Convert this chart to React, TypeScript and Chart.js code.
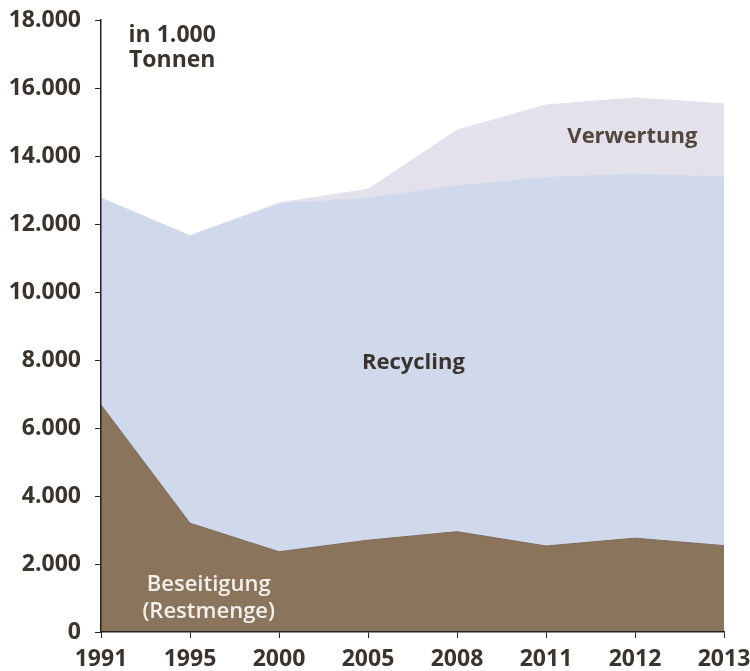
import React, { useEffect, useRef } from "react";
import { Chart, registerables } from "chart.js";

Chart.register(...registerables);

const categories = ["1991", "1995", "2000", "2005", "2008", "2011", "2012", "2013"];
const beseitigung = [6680, 3200, 2360, 2700, 2950, 2530, 2760, 2540];
const recycling = [6080, 8450, 10230, 10060, 10170, 10840, 10710, 10840];
const verwertung = [0, 0, 30, 260, 1640, 2130, 2240, 2150];
const yTicks = [0, 2000, 4000, 6000, 8000, 10000, 12000, 14000, 16000, 18000];

const FONT = "'Open Sans', 'Noto Sans', sans-serif";
const TEXT = "#3b332d";

const fmt = (v: number) =>
  v === 0 ? "0" : String(v).replace(/\B(?=(\d{3})+(?!\d))/g, ".");

const labelPlugin = {
  id: "areaLabels",
  afterDatasetsDraw(chart: any) {
    const { ctx, scales } = chart;
    const x = scales.x;
    const y = scales.y;
    const put = (t: string, xi: number, yv: number, color: string, size: number, weight = "bold") => {
      ctx.save();
      ctx.font = `${weight} ${size}px ${FONT}`;
      ctx.fillStyle = color;
      ctx.textAlign = "center";
      ctx.textBaseline = "middle";
      ctx.fillText(t, x.getPixelForValue(xi), y.getPixelForValue(yv));
      ctx.restore();
    };
    put("in 1.000", 0.8, 17560, TEXT, 23);
    put("Tonnen", 0.8, 16820, TEXT, 23);
    put("Verwertung", 5.97, 14560, "#54463b", 22);
    put("Recycling", 3.51, 7910, TEXT, 22);
    put("Beseitigung", 1.21, 1380, "#f3efea", 22, "600");
    put("(Restmenge)", 1.21, 590, "#f3efea", 22, "600");
  },
};

export default function App() {
  const ref = useRef<HTMLCanvasElement>(null);
  useEffect(() => {
    const chart = new Chart(ref.current!, {
      type: "line",
      data: {
        labels: categories,
        datasets: [
          {
            label: "Beseitigung",
            data: beseitigung,
            backgroundColor: "#8b745c",
            borderColor: "#7d6a57",
            borderWidth: 1,
            fill: "origin",
            pointRadius: 0,
            tension: 0,
          },
          {
            label: "Recycling",
            data: recycling,
            backgroundColor: "#d0d9ec",
            borderColor: "#d0d9ec",
            borderWidth: 1,
            fill: "-1",
            pointRadius: 0,
            tension: 0,
          },
          {
            label: "Verwertung",
            data: verwertung,
            backgroundColor: "#e3e2ec",
            borderColor: "#e3e2ec",
            borderWidth: 1,
            fill: "-1",
            pointRadius: 0,
            tension: 0,
          },
        ],
      },
      options: {
        animation: false,
        responsive: false,
        maintainAspectRatio: false,
        layout: { padding: { top: 20, right: 26, left: 0, bottom: 0 } },
        plugins: { legend: { display: false }, tooltip: { enabled: false } },
        scales: {
          x: {
            type: "category",
            offset: false,
            grid: {
              drawOnChartArea: false,
              drawTicks: true,
              tickLength: 6,
              color: "#222",
              z: 1,
            },
            border: { color: "#222", width: 1.5, z: 2 },
            ticks: {
              color: TEXT,
              font: { family: FONT, size: 23, weight: "bold" },
              padding: 8,
              maxRotation: 0,
              autoSkip: false,
            },
            afterFit(s: any) {
              s.height = 39;
              s.paddingLeft = 0;
              s.paddingRight = 0;
              s.paddingTop = 0;
              s.paddingBottom = 0;
            },
          },
          y: {
            stacked: true,
            min: 0,
            max: 18000,
            grid: {
              drawOnChartArea: false,
              drawTicks: true,
              tickLength: 6,
              color: "#222",
              z: 1,
            },
            border: { color: "#222", width: 1.5, z: 2 },
            afterBuildTicks(s: any) {
              s.ticks = yTicks.map((v) => ({ value: v }));
            },
            ticks: {
              color: TEXT,
              font: { family: FONT, size: 23, weight: "bold" },
              padding: 14,
              callback: (v: any) => fmt(Number(v)),
            },
            afterFit(s: any) {
              s.width = 101;
              s.paddingLeft = 0;
              s.paddingRight = 0;
              s.paddingTop = 0;
              s.paddingBottom = 0;
            },
          },
        },
      },
      plugins: [labelPlugin],
    } as any);
    return () => chart.destroy();
  }, []);
  return (
    <div style={{ position: "absolute", left: 0, top: 0, width: 750, height: 671, background: "#fff" }}>
      <canvas ref={ref} width={750} height={671} />
    </div>
  );
}
